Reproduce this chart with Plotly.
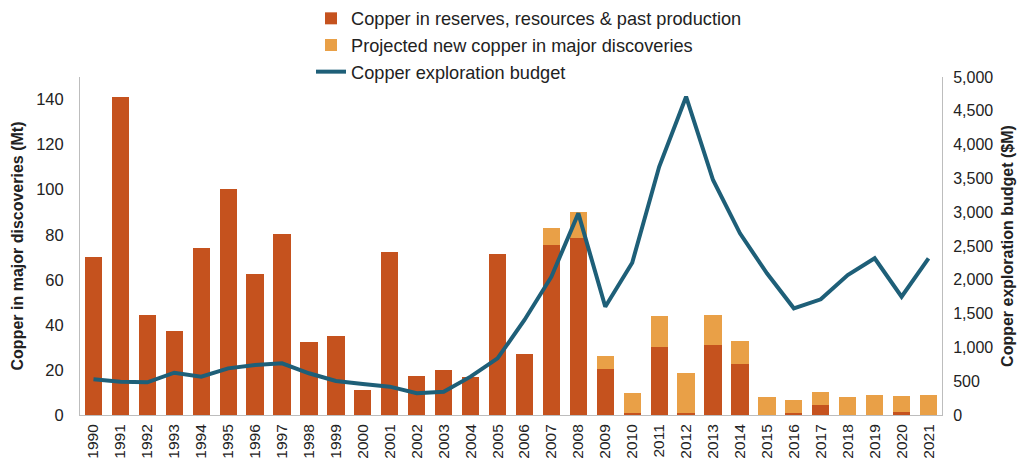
import plotly.graph_objects as go

years = [str(y) for y in range(1990, 2022)]
reserves = [70, 141, 44.5, 37.5, 74, 100.5, 62.5, 80.5, 32.5, 35, 11, 72.5, 17.5, 20, 17, 71.5, 27,
            75.5, 78.5, 20.5, 0.7, 30, 0.7, 31, 22.5, 0, 1, 4.5, 0, 0, 1.3, 0]
totals = [70, 141, 44.5, 37.5, 74, 100.5, 62.5, 80.5, 32.5, 35, 11, 72.5, 17.5, 20, 17, 71.5, 27,
          83, 90, 26, 9.8, 43.8, 18.6, 44.3, 32.7, 7.9, 6.6, 10.2, 7.9, 8.9, 8.5, 8.9]
projected = [round(t - r, 2) for t, r in zip(totals, reserves)]
budget = [528, 493, 483, 626, 567, 690, 740, 765, 617, 503, 458, 419, 321, 345, 567, 838, 1405,
          2046, 2983, 1602, 2253, 3672, 4708, 3476, 2687, 2096, 1578, 1711, 2071, 2318, 1750, 2318]

RED = "#C5521E"
ORANGE = "#E9A047"
BLUE = "#1E5F78"
AXIS = "#BDBDBD"
TXT = "#222222"

fig = go.Figure()
fig.add_trace(go.Bar(x=years, y=reserves, name="Copper in reserves, resources & past production",
                     marker=dict(color=RED, line=dict(width=0))))
fig.add_trace(go.Bar(x=years, y=projected, name="Projected new copper in major discoveries",
                     marker=dict(color=ORANGE, line=dict(width=0))))
fig.add_trace(go.Scatter(x=years, y=budget, name="Copper exploration budget", yaxis="y2",
                         mode="lines", line=dict(color=BLUE, width=4)))

fig.update_layout(
    width=1022, height=466,
    barmode="stack", bargap=0.36,
    plot_bgcolor="white", paper_bgcolor="white",
    margin=dict(l=80, r=80, t=77, b=51, autoexpand=False),
    font=dict(family="Liberation Sans, Arial, sans-serif", size=13, color=TXT),
    legend=dict(orientation="v", x=0.268, xanchor="left", y=1.0, yref="container", yanchor="top",
                traceorder="normal", tracegroupgap=0, itemwidth=30,
                font=dict(family="Liberation Sans Narrow, Liberation Sans, sans-serif", size=18.2, color=TXT),
                bgcolor="rgba(0,0,0,0)"),
    xaxis=dict(type="category", tickangle=-90, showline=True, linecolor=AXIS, linewidth=1,
               ticks="", tickfont=dict(size=15.5), showgrid=False, ticklabelstandoff=2),
    yaxis=dict(range=[0, 150], tickvals=[0, 20, 40, 60, 80, 100, 120, 140], showline=True,
               linecolor=AXIS, linewidth=1, showgrid=False, zeroline=False, ticks="",
               tickfont=dict(size=16.5), ticklabelstandoff=12,
               title=dict(text="<b>Copper in major discoveries (Mt)</b>", font=dict(size=16), standoff=8)),
    yaxis2=dict(range=[0, 5000], overlaying="y", side="right", dtick=500, tickformat=",",
                showline=True, linecolor=AXIS, linewidth=1, showgrid=False, zeroline=False, ticks="",
                tickfont=dict(size=16), ticklabelstandoff=7,
                title=dict(text="<b>Copper exploration budget ($M)</b>", font=dict(size=16), standoff=9)),
)

fig.write_html("out.html", config={"displayModeBar": False},
               post_script="document.body.style.margin='0';")
